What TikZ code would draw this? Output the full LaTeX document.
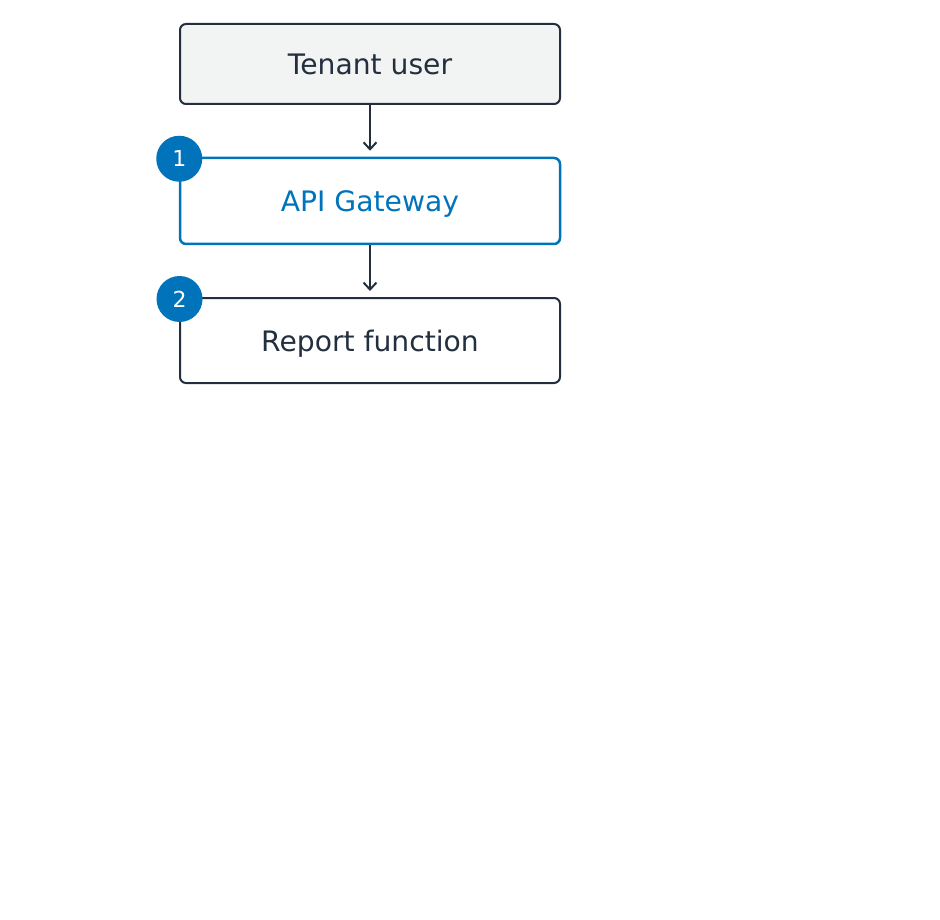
\documentclass[tikz,border=0pt]{standalone}
\usepackage{fontspec}
\setmainfont{DejaVu Sans}
\usetikzlibrary{arrows.meta}
\definecolor{ink}{HTML}{232F3E}
\definecolor{awsblue}{HTML}{0073BB}
\definecolor{lightfill}{HTML}{F2F3F3}
\tikzset{
  box/.style={draw=ink, line width=2pt, rounded corners=6pt, minimum width=380pt, inner sep=0pt, text depth=0pt, font=\fontsize{28.2}{32}\selectfont, text=ink},
  hilite/.style={box, draw=awsblue, line width=2.5pt, text=awsblue},
  badge/.style={circle, fill=awsblue, minimum size=46pt, inner sep=0pt, text=white, font=\fontsize{22}{26}\selectfont},
  conn/.style={draw=ink, line width=2pt, -{Straight Barb[length=7pt,width=13pt,line width=2pt]}}
}
\begin{document}
\begin{tikzpicture}[x=1pt,y=-1pt]
\useasboundingbox (0,0) rectangle (940,920);
\node[box, fill=lightfill, minimum height=80pt] (tenant) at (370,64) {Tenant user};
\node[hilite, minimum height=86pt] (api) at (370,201) {API Gateway};
\node[box, minimum height=85pt] (report) at (370,340.5) {Report function};
\node[badge] (b1) at ([shift={(0.5pt,-2pt)}]api.north west) {1};
\node[badge] (b2) at ([shift={(0.5pt,-2pt)}]report.north west) {2};
\draw[conn] (tenant.south) -- ([yshift=6pt]api.north);
\draw[conn] (api.south) -- ([yshift=6pt]report.north);
\end{tikzpicture}
\end{document}
